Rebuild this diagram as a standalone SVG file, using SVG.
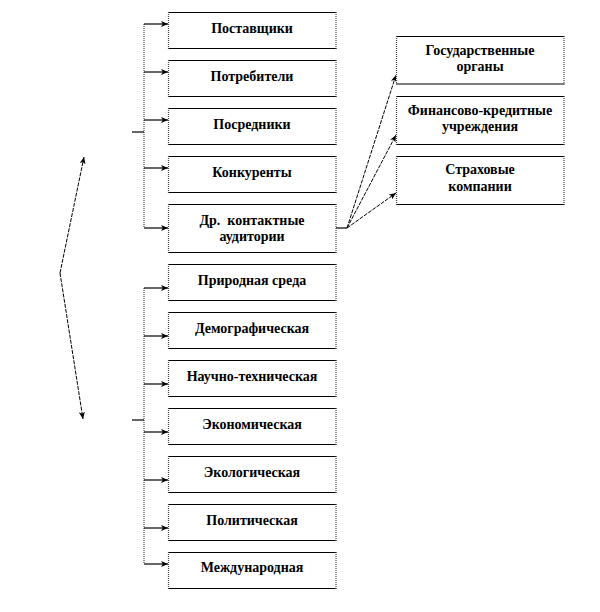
<svg xmlns="http://www.w3.org/2000/svg" width="600" height="612" viewBox="0 0 600 612">
<style>
.bg{fill:#fff;stroke:none}
.hb{stroke:#000;stroke-width:1.2;fill:none}
.vb{stroke:#444;stroke-width:1.2;stroke-dasharray:1,1;fill:none}
.t{font-family:"Liberation Serif","Times New Roman",serif;font-weight:bold;font-size:14px;fill:#000;text-anchor:middle;white-space:pre}
.ln{stroke:#000;stroke-width:1.2;fill:none}
.dot{stroke:#444;stroke-width:1.2;stroke-dasharray:1,1;fill:none}
.ds{stroke:#000;stroke-width:1;stroke-dasharray:4,1.2;fill:none}
</style>
<defs>
<marker id="ah" markerUnits="userSpaceOnUse" markerWidth="8" markerHeight="6" refX="7" refY="3" orient="auto">
<path d="M0,0 L7,3 L0,6 L1.8,3 Z" fill="#000"/>
</marker>
</defs>
<rect width="600" height="612" fill="#fff"/>
<g id="connectors">
<line class="dot" x1="144" y1="24" x2="144" y2="228"/>
<line class="dot" x1="144" y1="288" x2="144" y2="564"/>
<line class="ln" x1="132" y1="132" x2="144" y2="132"/>
<line class="ln" x1="132" y1="420" x2="144" y2="420"/>
<line class="ln" x1="144" y1="24" x2="168" y2="24" marker-end="url(#ah)"/>
<line class="ln" x1="144" y1="72" x2="168" y2="72" marker-end="url(#ah)"/>
<line class="ln" x1="144" y1="120" x2="168" y2="120" marker-end="url(#ah)"/>
<line class="ln" x1="144" y1="168" x2="168" y2="168" marker-end="url(#ah)"/>
<line class="ln" x1="144" y1="228" x2="168" y2="228" marker-end="url(#ah)"/>
<line class="ln" x1="144" y1="288" x2="168" y2="288" marker-end="url(#ah)"/>
<line class="ln" x1="144" y1="336" x2="168" y2="336" marker-end="url(#ah)"/>
<line class="ln" x1="144" y1="384" x2="168" y2="384" marker-end="url(#ah)"/>
<line class="ln" x1="144" y1="432" x2="168" y2="432" marker-end="url(#ah)"/>
<line class="ln" x1="144" y1="480" x2="168" y2="480" marker-end="url(#ah)"/>
<line class="ln" x1="144" y1="528" x2="168" y2="528" marker-end="url(#ah)"/>
<line class="ln" x1="144" y1="564" x2="168" y2="564" marker-end="url(#ah)"/>
<line class="ln" x1="336" y1="228" x2="347" y2="228"/>
<line class="ds" x1="347" y1="228" x2="396" y2="75" marker-end="url(#ah)"/>
<line class="ds" x1="347" y1="228" x2="396" y2="135" marker-end="url(#ah)"/>
<line class="ds" x1="347" y1="228" x2="396" y2="193" marker-end="url(#ah)"/>
<line class="ds" x1="60" y1="273" x2="84" y2="157" marker-end="url(#ah)"/>
<line class="ds" x1="60" y1="273" x2="83" y2="419" marker-end="url(#ah)"/>
</g>
<g id="n1"><rect class="bg" x="168" y="12" width="168" height="36"/><path class="hb" d="M168,12.5H336.5M168,48.5H336.5"/><path class="vb" d="M168.5,12V49M336,12V49"/><text class="t" x="252" y="32.5">Поставщики</text></g>
<g id="n2"><rect class="bg" x="168" y="60" width="168" height="36"/><path class="hb" d="M168,60.5H336.5M168,96.5H336.5"/><path class="vb" d="M168.5,60V97M336,60V97"/><text class="t" x="252" y="80.5">Потребители</text></g>
<g id="n3"><rect class="bg" x="168" y="108" width="168" height="36"/><path class="hb" d="M168,108.5H336.5M168,144.5H336.5"/><path class="vb" d="M168.5,108V145M336,108V145"/><text class="t" x="252" y="128.5">Посредники</text></g>
<g id="n4"><rect class="bg" x="168" y="156" width="168" height="36"/><path class="hb" d="M168,156.5H336.5M168,192.5H336.5"/><path class="vb" d="M168.5,156V193M336,156V193"/><text class="t" x="252" y="176.5">Конкуренты</text></g>
<g id="n5"><rect class="bg" x="168" y="204" width="168" height="48"/><path class="hb" d="M168,204.5H336.5M168,252.5H336.5"/><path class="vb" d="M168.5,204V253M336,204V253"/><text class="t" x="252" y="224.5">Др.  контактные</text><text class="t" x="252" y="240.5">аудитории</text></g>
<g id="n6"><rect class="bg" x="168" y="264" width="168" height="36"/><path class="hb" d="M168,264.5H336.5M168,300.5H336.5"/><path class="vb" d="M168.5,264V301M336,264V301"/><text class="t" x="252" y="284.5">Природная среда</text></g>
<g id="n7"><rect class="bg" x="168" y="312" width="168" height="36"/><path class="hb" d="M168,312.5H336.5M168,348.5H336.5"/><path class="vb" d="M168.5,312V349M336,312V349"/><text class="t" x="252" y="332.5">Демографическая</text></g>
<g id="n8"><rect class="bg" x="168" y="360" width="168" height="36"/><path class="hb" d="M168,360.5H336.5M168,396.5H336.5"/><path class="vb" d="M168.5,360V397M336,360V397"/><text class="t" x="252" y="380.5">Научно-техническая</text></g>
<g id="n9"><rect class="bg" x="168" y="408" width="168" height="36"/><path class="hb" d="M168,408.5H336.5M168,444.5H336.5"/><path class="vb" d="M168.5,408V445M336,408V445"/><text class="t" x="252" y="428.5">Экономическая</text></g>
<g id="n10"><rect class="bg" x="168" y="456" width="168" height="36"/><path class="hb" d="M168,456.5H336.5M168,492.5H336.5"/><path class="vb" d="M168.5,456V493M336,456V493"/><text class="t" x="252" y="476.5">Экологическая</text></g>
<g id="n11"><rect class="bg" x="168" y="504" width="168" height="36"/><path class="hb" d="M168,504.5H336.5M168,540.5H336.5"/><path class="vb" d="M168.5,504V541M336,504V541"/><text class="t" x="252" y="524.5">Политическая</text></g>
<g id="n12"><rect class="bg" x="168" y="552" width="168" height="36"/><path class="hb" d="M168,552.5H336.5M168,588.5H336.5"/><path class="vb" d="M168.5,552V589M336,552V589"/><text class="t" x="252" y="572">Международная</text></g>
<g id="r1"><rect class="bg" x="396" y="36" width="168" height="48"/><path class="hb" d="M396,36.5H564.5M396,84H564.5"/><path class="vb" d="M396.5,36V84.5M564,36V84.5"/><text class="t" x="480" y="55">Государственные</text><text class="t" x="480" y="71">органы</text></g>
<g id="r2"><rect class="bg" x="396" y="96" width="168" height="48"/><path class="hb" d="M396,96.5H564.5M396,144.5H564.5"/><path class="vb" d="M396.5,96V145M564,96V145"/><text class="t" x="480" y="114.5">Финансово-кредитные</text><text class="t" x="480" y="131">учреждения</text></g>
<g id="r3"><rect class="bg" x="396" y="156" width="168" height="48"/><path class="hb" d="M396,156.5H564.5M396,204.5H564.5"/><path class="vb" d="M396.5,156V205M564,156V205"/><text class="t" x="480" y="174">Страховые</text><text class="t" x="480" y="190.5">компании</text></g>
</svg>
